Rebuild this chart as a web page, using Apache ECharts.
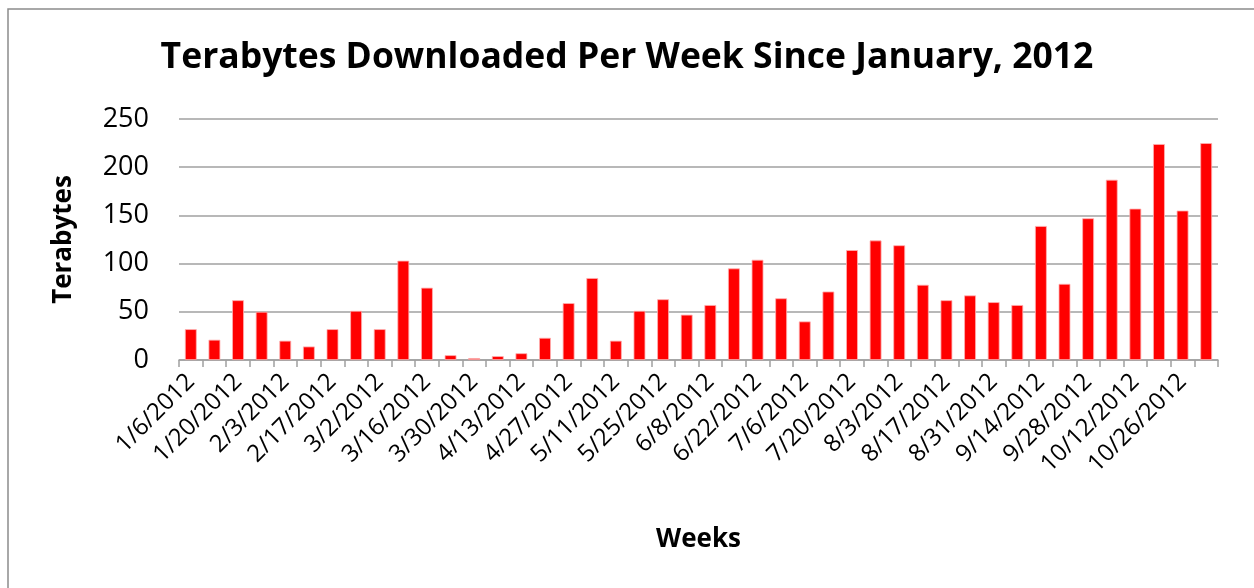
<!DOCTYPE html>
<html>
<head>
<meta charset="utf-8">
<script src="https://cdn.jsdelivr.net/npm/echarts@6/dist/echarts.min.js"></script>
<style>
html,body{margin:0;padding:0;background:#fff;}
#chart{width:1254px;height:588px;}
</style>
</head>
<body>
<div id="chart"></div>
<script>
const categories = [
  "1/6/2012","1/13/2012","1/20/2012","1/27/2012","2/3/2012","2/10/2012","2/17/2012","2/24/2012",
  "3/2/2012","3/9/2012","3/16/2012","3/23/2012","3/30/2012","4/6/2012","4/13/2012","4/20/2012",
  "4/27/2012","5/4/2012","5/11/2012","5/18/2012","5/25/2012","6/1/2012","6/8/2012","6/15/2012",
  "6/22/2012","6/29/2012","7/6/2012","7/13/2012","7/20/2012","7/27/2012","8/3/2012","8/10/2012",
  "8/17/2012","8/24/2012","8/31/2012","9/7/2012","9/14/2012","9/21/2012","9/28/2012","10/5/2012",
  "10/12/2012","10/19/2012","10/26/2012","11/2/2012"
];
const terabytes = [
  32, 21, 62, 50, 20, 14, 32, 51,
  32, 103, 75, 5, 2, 4, 7, 23,
  59, 85, 20, 51, 63, 47, 57, 95,
  104, 64, 40, 71, 114, 124, 119, 78,
  62, 67, 60, 57, 139, 79, 147, 187,
  157, 224, 155, 225
];
const titleText = "Terabytes Downloaded Per Week Since January, 2012";
const yAxisName = "Terabytes";
const xAxisName = "Weeks";

const chart = echarts.init(document.getElementById('chart'), null, {renderer: 'canvas'});
const FONT = '"Open Sans", "Noto Sans", sans-serif';
chart.setOption({
  animation: false,
  backgroundColor: '#fff',
  graphic: [{
    type: 'rect',
    shape: {x: 8, y: 9, width: 1400, height: 800},
    style: {fill: 'none', stroke: '#8c8c8c', lineWidth: 1.5},
    silent: true
  }],
  title: {
    text: titleText,
    left: 'center',
    top: 35,
    textStyle: {fontFamily: FONT, fontSize: 35.5, fontWeight: 'bold', color: '#000'}
  },
  grid: {left: 179, right: 36, top: 119, bottom: 228},
  xAxis: {
    type: 'category',
    data: categories,
    boundaryGap: true,
    name: xAxisName,
    nameLocation: 'middle',
    nameGap: 167,
    nameTextStyle: {fontFamily: FONT, fontSize: 26, fontWeight: 'bold', color: '#000'},
    axisLine: {lineStyle: {color: '#a0a0a0', width: 1.5}},
    axisTick: {show: true, interval: 0, alignWithLabel: false, length: 7, lineStyle: {color: '#a0a0a0', width: 1.5}},
    axisLabel: {interval: 1, rotate: 45, margin: 18, fontFamily: FONT, fontSize: 24, color: '#000'}
  },
  yAxis: {
    type: 'value',
    min: 0, max: 250, interval: 50,
    name: yAxisName,
    nameLocation: 'middle',
    nameGap: 102,
    nameTextStyle: {fontFamily: FONT, fontSize: 26, fontWeight: 'bold', color: '#000'},
    axisLine: {show: false},
    axisTick: {show: false},
    axisLabel: {margin: 30, fontFamily: FONT, fontSize: 27, color: '#000'},
    splitLine: {lineStyle: {color: '#a0a0a0', width: 1.5}}
  },
  series: [{
    type: 'bar',
    data: terabytes,
    barCategoryGap: '50%',
    itemStyle: {color: '#ff0000', borderColor: '#ffb0b0', borderWidth: 0.8}
  }]
});
</script>
</body>
</html>
